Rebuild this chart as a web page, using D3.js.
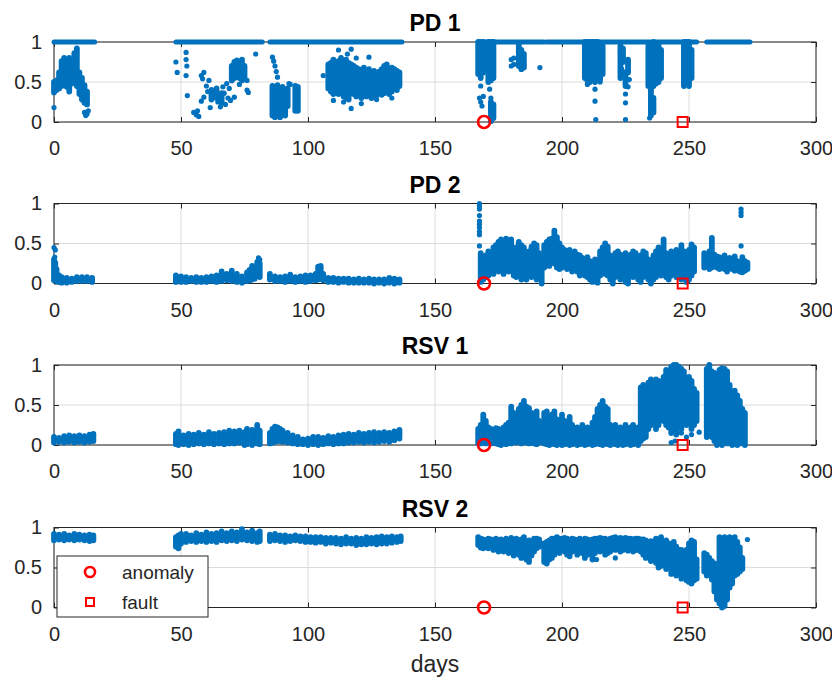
<!DOCTYPE html>
<html lang="en">
<head>
<meta charset="UTF-8">
<title>PD / RSV anomaly scores</title>
<script src="https://d3js.org/d3.v7.min.js"></script>
<style>
    body { margin: 0; background: #fff; }
    svg { display: block; font-family: "Liberation Sans", Arial, sans-serif; }
    .tick text { fill: #262626; font-size: 20px; }
    .tick line { stroke: #262626; }
</style>
</head>
<body>
<div id="chart"></div>
<script>
// ---- data: [day, low, high] bands, [day, value] dots, [from, to] runs at 1 ----
const pd1Ones = [[0,16],[48,82],[85,137],[167,193],[194,235],[236,253],[257,274]];
const pd1Bands = [
    [0,0.37,0.50],[1,0.40,0.52],[2,0.42,0.62],[3,0.45,0.76],[4,0.50,0.80],[5,0.44,0.72],[6,0.38,0.80],
    [7,0.48,0.72],[8,0.55,0.86],[9,0.45,0.92],[10,0.35,0.62],[11,0.28,0.55],[12,0.24,0.46],[13,0.22,0.38],
    [62,0.28,0.40],[64,0.30,0.42],[66,0.24,0.36],[70,0.52,0.70],[71,0.55,0.75],[72,0.58,0.77],[73,0.55,0.72],
    [74,0.52,0.78],[75,0.55,0.70],
    [86,0.08,0.45],[87,0.06,0.40],[88,0.10,0.46],[89,0.06,0.38],[90,0.12,0.44],[91,0.08,0.35],[92,0.20,0.42],
    [95,0.14,0.45],[96,0.14,0.44],
    [108,0.42,0.72],[109,0.38,0.74],[110,0.35,0.78],[111,0.40,0.70],[112,0.35,0.76],[113,0.40,0.80],[114,0.32,0.72],
    [115,0.30,0.78],[116,0.28,0.74],[117,0.38,0.72],[118,0.35,0.70],[119,0.32,0.68],[120,0.35,0.66],[121,0.30,0.64],
    [122,0.38,0.68],[123,0.32,0.62],[124,0.36,0.66],[125,0.30,0.62],[126,0.35,0.64],[127,0.33,0.60],[128,0.38,0.63],
    [129,0.34,0.66],[130,0.36,0.70],[131,0.40,0.72],[132,0.35,0.66],[133,0.38,0.68],[134,0.42,0.66],[135,0.40,0.64],
    [136,0.45,0.62],
    [167,0.60,1.0],[168,0.55,1.0],[169,0.62,1.0],[171,0.50,1.0],[172,0.52,1.0],[173,0.55,1.0],[172,0.01,0.25],
    [173,0.05,0.22],[183,0.70,0.96],[184,0.66,0.90],[185,0.68,0.85],
    [209,0.55,1.0],[210,0.52,1.0],[211,0.50,1.0],[212,0.55,1.0],[213,0.50,1.0],[214,0.58,1.0],[215,0.53,0.98],
    [216,0.60,0.95],[223,0.55,0.95],[224,0.75,0.92],[225,0.45,0.62],[226,0.62,0.78],
    [234,0.45,0.95],[235,0.40,0.98],[236,0.45,1.0],[237,0.48,0.95],[238,0.50,0.98],[239,0.55,0.90],
    [235,0.08,0.40],[236,0.12,0.30],
    [248,0.45,1.0],[249,0.48,1.0],[250,0.45,1.0],[251,0.55,0.90]
];
const pd1Dots = [
    [0,0.18],[12,0.12],[13,0.10],[13.5,0.14],[12.5,0.08],
    [48,0.75],[48.5,0.62],[52,0.87],[52,0.78],[52.3,0.70],[52,0.58],[52.5,0.33],[55,0.12],[56,0.09],[57,0.07],
    [56.5,0.14],[58,0.58],[58.5,0.54],[59,0.62],[59,0.31],[58,0.26],[60,0.45],[60.5,0.38],[61,0.52],[61.5,0.18],
    [63,0.35],[64.5,0.25],[65.5,0.19],[66.5,0.44],[67,0.36],[67.5,0.22],[68,0.48],[68.5,0.30],[69,0.42],[69.5,0.27],
    [71,0.31],[73,0.47],[76,0.52],[76,0.40],[76.5,0.37],[79.4,0.85],
    [86,0.81],[86.5,0.76],[87,0.70],[87.5,0.63],[88,0.56],[92.5,0.48],[93,0.47],
    [106,0.58],[112,0.90],[115.5,0.85],[117,0.91],[117,0.17],[124,0.81],[119,0.80],[110,0.27],[114,0.25],[121,0.23],
    [127,0.28],[133,0.30],
    [168,0.45],[167.5,0.30],[168,0.25],[168.5,0.20],[169,0.32],[171.5,0.41],[172,0.30],
    [180,0.78],[180,0.70],[181,0.80],[181,0.72],[191.3,0.68],
    [210,0.47],[213,0.41],[213,0.26],[213.3,0.03],[215,0.50],
    [223,0.88],[225,0.35],[225,0.24],[225,0.03],[226,0.44],[224,0.82],[223.5,0.66],[226.5,0.53],
    [234.5,0.05],[235.5,0.18]
];

const pd2Bands = [
    [0,0.04,0.30],[0.5,0.05,0.26],[1,0.03,0.18],[2,0.02,0.10],[3,0.01,0.08],[5,0.01,0.07],[7,0.02,0.06],
    [9,0.03,0.08],[11,0.03,0.08],[13,0.03,0.08],[15,0.02,0.07],
    [48,0.02,0.10],[50,0.02,0.09],[52,0.02,0.08],[54,0.03,0.07],[56,0.02,0.08],[58,0.02,0.07],[60,0.02,0.08],
    [62,0.03,0.09],[64,0.02,0.10],[66,0.03,0.15],[68,0.04,0.12],[70,0.03,0.16],[72,0.02,0.12],[74,0.01,0.09],
    [76,0.03,0.14],[77,0.04,0.17],[78,0.05,0.22],[79,0.06,0.20],[80,0.10,0.27],[81,0.08,0.25],
    [85,0.05,0.12],[87,0.03,0.09],[89,0.03,0.08],[91,0.02,0.09],[93,0.03,0.11],[95,0.02,0.08],[97,0.03,0.09],
    [99,0.02,0.10],[101,0.03,0.10],[103,0.04,0.12],[104,0.05,0.21],[105,0.06,0.22],[106,0.04,0.12],[108,0.02,0.07],
    [110,0.02,0.07],[112,0.01,0.06],[114,0.02,0.06],[116,0.01,0.06],[118,0.01,0.05],[120,0.01,0.06],[122,0.01,0.05],
    [124,0.01,0.06],[126,0.00,0.05],[128,0.01,0.05],[130,0.00,0.05],[132,0.01,0.07],[134,0.00,0.06],[136,0.01,0.05],
    [168,0.02,0.38],[169,0.05,0.32],[170,0.08,0.35],[171,0.10,0.40],[172,0.15,0.36],[173,0.12,0.45],[174,0.18,0.48],
    [175,0.15,0.52],[176,0.20,0.55],[177,0.12,0.50],[178,0.18,0.56],[179,0.15,0.53],[180,0.20,0.55],[181,0.10,0.40],
    [182,0.08,0.45],[183,0.12,0.52],[184,0.05,0.48],[185,0.10,0.45],[186,0.05,0.35],[187,0.10,0.40],[188,0.08,0.46],
    [189,0.12,0.50],[190,0.05,0.48],[191,0.10,0.38],[192,0.00,0.30],[193,0.20,0.48],[194,0.25,0.52],[195,0.22,0.55],
    [196,0.28,0.56],[197,0.25,0.66],[198,0.20,0.58],[199,0.18,0.50],[200,0.20,0.45],[201,0.22,0.42],[202,0.18,0.40],
    [203,0.20,0.42],[204,0.15,0.38],[205,0.18,0.40],[206,0.15,0.36],[207,0.10,0.35],[208,0.12,0.32],[209,0.10,0.30],
    [210,0.08,0.33],[211,0.05,0.28],[212,0.02,0.25],[213,0.03,0.30],[214,0.01,0.28],[215,0.10,0.40],[216,0.15,0.45],
    [217,0.12,0.50],[218,0.10,0.46],[219,0.05,0.35],[220,0.00,0.25],[221,0.08,0.38],[222,0.12,0.40],[223,0.05,0.36],
    [224,0.08,0.32],[225,0.02,0.38],[226,0.00,0.30],[227,0.10,0.36],[228,0.08,0.40],[229,0.12,0.38],[230,0.05,0.33],
    [231,0.02,0.35],[232,0.08,0.40],[233,0.10,0.38],[234,0.05,0.30],[235,0.00,0.28],[236,0.05,0.35],[237,0.08,0.40],
    [238,0.12,0.45],[239,0.10,0.35],[240,0.15,0.55],[241,0.08,0.38],[242,0.05,0.36],[243,0.10,0.40],[244,0.12,0.35],
    [245,0.08,0.42],[246,0.10,0.38],[247,0.05,0.48],[248,0.10,0.40],[249,0.02,0.35],[250,0.05,0.42],[251,0.10,0.49],
    [252,0.15,0.45],
    [256,0.20,0.38],[257,0.22,0.35],[258,0.18,0.40],[259,0.20,0.57],[260,0.22,0.36],[261,0.20,0.34],[262,0.18,0.33],
    [263,0.22,0.30],[264,0.18,0.35],[265,0.15,0.28],[266,0.20,0.32],[267,0.18,0.30],[268,0.16,0.34],[269,0.20,0.28],
    [270,0.15,0.26],[271,0.14,0.33],[272,0.16,0.28],[273,0.18,0.26]
];
const pd2Dots = [
    [0,0.45],[0.5,0.42],[0.3,0.33],[80.5,0.32],[81,0.30],
    [167.5,1.0],[167.5,0.97],[167.5,0.93],[167.5,0.85],[167.5,0.78],[167.5,0.74],[167.5,0.70],[167.5,0.65],
    [167.5,0.61],[167.5,0.47],
    [270.5,0.93],[270.5,0.89],[270.5,0.85],[270.5,0.47]
];

const rsv1Bands = [
    [0,0.03,0.10],[2,0.04,0.09],[4,0.03,0.11],[6,0.04,0.12],[8,0.03,0.11],[10,0.04,0.12],[12,0.03,0.11],
    [14,0.04,0.13],[15.5,0.05,0.14],
    [48,0.01,0.14],[49,0.00,0.17],[51,0.01,0.12],[53,0.00,0.14],[55,0.01,0.13],[57,0.02,0.15],[59,0.01,0.13],
    [61,0.02,0.16],[63,0.01,0.14],[65,0.02,0.15],[67,0.01,0.16],[69,0.02,0.18],[71,0.02,0.17],[73,0.03,0.18],
    [75,0.00,0.16],[76,0.01,0.20],[78,0.00,0.19],[80,0.02,0.25],[81,0.01,0.18],
    [85,0.02,0.15],[86,0.03,0.20],[87,0.04,0.23],[88,0.05,0.22],[89,0.05,0.20],[90,0.04,0.18],[92,0.03,0.15],
    [94,0.02,0.12],[96,0.01,0.10],[98,0.01,0.07],[100,0.00,0.08],[102,0.01,0.10],[104,0.00,0.10],[106,0.01,0.09],
    [108,0.02,0.11],[110,0.01,0.10],[112,0.02,0.12],[114,0.02,0.13],[116,0.03,0.14],[118,0.03,0.13],[120,0.04,0.15],
    [122,0.03,0.14],[124,0.04,0.15],[126,0.03,0.16],[128,0.04,0.15],[130,0.05,0.16],[132,0.04,0.15],[134,0.06,0.17],
    [136,0.08,0.19],
    [167,0.02,0.20],[168,0.02,0.25],[169,0.05,0.38],[170,0.02,0.30],[171,0.03,0.22],[172,0.02,0.20],[173,0.03,0.18],
    [174,0.02,0.21],[175,0.01,0.20],[176,0.00,0.18],[177,0.02,0.22],[178,0.01,0.25],[179,0.03,0.28],[180,0.02,0.48],
    [181,0.05,0.40],[182,0.03,0.35],[183,0.05,0.45],[184,0.02,0.50],[185,0.05,0.55],[186,0.03,0.48],[187,0.02,0.46],
    [188,0.04,0.40],[189,0.02,0.35],[190,0.01,0.42],[191,0.03,0.30],[193,0.02,0.40],[194,0.01,0.42],[195,0.00,0.35],
    [196,0.02,0.38],[197,0.01,0.42],[198,0.00,0.32],[199,0.02,0.30],[200,0.00,0.38],[201,0.01,0.30],[202,0.02,0.22],
    [203,0.00,0.35],[204,0.01,0.25],[205,0.02,0.20],[206,0.00,0.22],[207,0.01,0.18],[208,0.02,0.25],[209,0.00,0.20],
    [210,0.01,0.22],[211,0.02,0.18],[212,0.00,0.28],[213,0.01,0.35],[214,0.02,0.45],[215,0.01,0.50],[216,0.00,0.55],
    [217,0.02,0.48],[218,0.01,0.45],[219,0.00,0.25],[220,0.02,0.20],[221,0.01,0.25],[222,0.00,0.18],[223,0.02,0.22],
    [224,0.00,0.20],[225,0.01,0.25],[226,0.02,0.18],[227,0.00,0.22],[228,0.01,0.25],[229,0.02,0.20],[230,0.00,0.22],
    [231,0.05,0.72],[232,0.08,0.75],[233,0.10,0.65],[234,0.20,0.78],[235,0.25,0.82],[236,0.30,0.78],[237,0.20,0.82],
    [238,0.25,0.80],[239,0.35,0.75],[240,0.30,0.85],[241,0.25,0.94],[242,0.22,0.90],[243,0.15,0.98],[244,0.20,1.0],
    [245,0.13,1.0],[246,0.25,0.98],[247,0.20,0.95],[248,0.30,0.92],[249,0.25,0.84],[250,0.30,0.85],[251,0.20,0.80],
    [252,0.25,0.70],[253,0.30,0.65],
    [257,0.10,0.95],[258,0.15,1.0],[259,0.10,0.92],[260,0.05,0.90],[261,0.00,0.85],[262,0.02,0.94],[263,0.00,0.96],
    [264,0.05,0.95],[265,0.02,0.92],[266,0.05,0.75],[267,0.00,0.66],[268,0.02,0.68],[269,0.00,0.62],[270,0.02,0.55],
    [271,0.05,0.45],[272,0.00,0.40]
];
const rsv1Dots = [[243,0.03],[244.5,0.05],[247,0.15],[249,0.10],[251,0.13],[254,0.16]];

const rsv2Bands = [
    [0,0.84,0.92],[2,0.85,0.91],[4,0.84,0.92],[6,0.85,0.90],[8,0.84,0.92],[10,0.85,0.91],[12,0.84,0.90],
    [14,0.83,0.91],[15.5,0.84,0.90],
    [48,0.76,0.88],[49,0.74,0.90],[50,0.80,0.92],[52,0.82,0.92],[54,0.83,0.90],[56,0.82,0.93],[58,0.83,0.91],
    [60,0.82,0.94],[62,0.83,0.92],[64,0.82,0.93],[66,0.84,0.95],[68,0.83,0.93],[70,0.84,0.95],[72,0.83,0.94],
    [74,0.85,0.98],[76,0.84,0.94],[78,0.83,0.96],[80,0.82,0.93],[81,0.83,0.95],
    [85,0.83,0.91],[87,0.84,0.92],[89,0.83,0.90],[91,0.82,0.90],[93,0.83,0.89],[95,0.84,0.90],[97,0.83,0.89],
    [99,0.82,0.89],[101,0.82,0.88],[103,0.81,0.88],[105,0.82,0.88],[107,0.80,0.87],[109,0.81,0.87],[111,0.80,0.87],
    [113,0.79,0.86],[115,0.80,0.88],[117,0.80,0.86],[119,0.78,0.87],[121,0.79,0.86],[123,0.79,0.88],[125,0.80,0.87],
    [127,0.79,0.88],[129,0.80,0.89],[131,0.80,0.88],[133,0.81,0.89],[135,0.82,0.88],[136.5,0.83,0.89],
    [167,0.78,0.88],[168,0.75,0.86],[169,0.74,0.85],[170,0.76,0.84],[171,0.74,0.86],[172,0.76,0.85],[173,0.72,0.84],
    [174,0.74,0.86],[175,0.70,0.84],[176,0.72,0.85],[177,0.70,0.83],[178,0.72,0.86],[179,0.68,0.84],[180,0.70,0.87],
    [181,0.65,0.84],[182,0.70,0.86],[183,0.66,0.82],[184,0.62,0.85],[185,0.68,0.88],[186,0.60,0.80],[187,0.57,0.84],
    [188,0.65,0.82],[189,0.70,0.86],[190,0.74,0.86],[191,0.76,0.85],[193,0.57,0.80],[194,0.55,0.82],[195,0.60,0.84],
    [196,0.62,0.86],[197,0.66,0.86],[198,0.70,0.88],[199,0.68,0.86],[200,0.72,0.86],[201,0.70,0.87],[202,0.66,0.86],
    [203,0.64,0.84],[204,0.70,0.86],[205,0.72,0.85],[206,0.66,0.84],[207,0.70,0.86],[208,0.68,0.84],[209,0.62,0.86],
    [210,0.66,0.85],[211,0.70,0.84],[212,0.60,0.85],[213,0.68,0.86],[214,0.72,0.86],[215,0.70,0.87],[216,0.72,0.86],
    [217,0.66,0.86],[218,0.68,0.84],[219,0.70,0.86],[220,0.74,0.87],[221,0.72,0.88],[222,0.75,0.86],[223,0.70,0.87],
    [224,0.72,0.86],[225,0.74,0.87],[226,0.71,0.86],[227,0.73,0.86],[228,0.70,0.85],[229,0.72,0.86],[230,0.72,0.86],
    [231,0.70,0.85],[232,0.66,0.85],[233,0.62,0.84],[234,0.66,0.82],[235,0.58,0.83],[236,0.60,0.82],[237,0.56,0.86],
    [238,0.50,0.80],[239,0.52,0.88],[240,0.55,0.82],[241,0.48,0.84],[242,0.50,0.80],[243,0.42,0.78],[244,0.45,0.82],
    [245,0.40,0.76],[246,0.42,0.72],[247,0.36,0.72],[248,0.38,0.65],[249,0.34,0.72],[250,0.32,0.80],[251,0.30,0.84],
    [252,0.34,0.82],[253,0.36,0.60],
    [256,0.45,0.68],[257,0.40,0.66],[258,0.42,0.62],[259,0.35,0.58],[260,0.20,0.55],[261,0.10,0.52],[262,0.05,0.88],
    [263,0.00,0.85],[264,0.02,0.88],[265,0.10,0.85],[266,0.25,0.88],[267,0.30,0.85],[268,0.40,0.88],[269,0.42,0.82],
    [270,0.45,0.75],[271,0.48,0.62]
];
const rsv2Dots = [[213.6,0.60],[221,0.62],[273,0.85]];

const titles = ["PD 1", "PD 2", "RSV 1", "RSV 2"];
const anomalyDays = [169.3];
const faultDays = [247.5];
const xTicks = [0, 50, 100, 150, 200, 250, 300];
const xTickLabels = ["0", "50", "100", "150", "200", "250", "300"];
const yTicks = [0, 0.5, 1];
const yTickLabels = ["0", "0.5", "1"];
const legendItems = ["anomaly", "fault"];

// ---- layout ----
const W = 832, H = 682;
const blue = "#0072BD", red = "#FF0000", ink = "#262626";
const plotLeft = 54, plotRight = 816, plotH = 80;
const tops = [42, 203.5, 365, 527.5];

const svg = d3.select("#chart").append("svg")
    .attr("width", W).attr("height", H);

const x = d3.scaleLinear().domain([0, 300]).range([plotLeft, plotRight]);

const panels = [
    { bands: pd1Bands, dots: pd1Dots, ones: pd1Ones },
    { bands: pd2Bands, dots: pd2Dots, ones: [] },
    { bands: rsv1Bands, dots: rsv1Dots, ones: [] },
    { bands: rsv2Bands, dots: rsv2Dots, ones: [] }
];

panels.forEach((p, i) => {
    const top = tops[i];
    const y = d3.scaleLinear().domain([0, 1]).range([top + plotH, top]);
    const g = svg.append("g");

    // grid
    g.selectAll(".gx").data(xTicks).enter().append("line")
        .attr("x1", d => x(d)).attr("x2", d => x(d))
        .attr("y1", top).attr("y2", top + plotH)
        .attr("stroke", "#dcdcdc").attr("stroke-width", 1);
    g.selectAll(".gy").data(yTicks).enter().append("line")
        .attr("x1", plotLeft).attr("x2", plotRight)
        .attr("y1", d => y(d)).attr("y2", d => y(d))
        .attr("stroke", "#dcdcdc").attr("stroke-width", 1);

    // axes with inward ticks
    g.append("g").attr("transform", `translate(0,${top + plotH})`)
        .call(d3.axisBottom(x).tickValues(xTicks).tickFormat((d, k) => xTickLabels[k])
            .tickSizeInner(-5).tickSizeOuter(0).tickPadding(19));
    g.append("g").attr("transform", `translate(0,${top})`)
        .call(d3.axisTop(x).tickValues(xTicks).tickFormat("").tickSizeInner(-5).tickSizeOuter(0));
    g.append("g").attr("transform", `translate(${plotLeft},0)`)
        .call(d3.axisLeft(y).tickValues(yTicks).tickFormat((d, k) => yTickLabels[k])
            .tickSizeInner(-5).tickSizeOuter(0).tickPadding(12));
    g.append("g").attr("transform", `translate(${plotRight},0)`)
        .call(d3.axisRight(y).tickValues(yTicks).tickFormat("").tickSizeInner(-5).tickSizeOuter(0));
    g.selectAll(".domain").remove();
    g.selectAll(".tick text").attr("font-family", null);

    g.append("rect")
        .attr("x", plotLeft).attr("y", top)
        .attr("width", plotRight - plotLeft).attr("height", plotH)
        .attr("fill", "none").attr("stroke", ink).attr("stroke-width", 1);

    // title
    g.append("text")
        .attr("x", (plotLeft + plotRight) / 2).attr("y", top - 11)
        .attr("text-anchor", "middle")
        .attr("font-weight", "bold").attr("font-size", 23).attr("fill", "#000")
        .text(titles[i]);

    // data
    const d = g.append("g");
    d.selectAll(".one").data(p.ones).enter().append("line")
        .attr("x1", r => x(r[0])).attr("x2", r => x(r[1]))
        .attr("y1", y(1)).attr("y2", y(1))
        .attr("stroke", blue).attr("stroke-width", 5).attr("stroke-linecap", "round");
    d.selectAll(".band").data(p.bands).enter().append("line")
        .attr("x1", b => x(b[0])).attr("x2", b => x(b[0]))
        .attr("y1", b => y(b[1])).attr("y2", b => y(b[2]))
        .attr("stroke", blue).attr("stroke-width", 5.8).attr("stroke-linecap", "round");
    d.selectAll(".dot").data(p.dots).enter().append("circle")
        .attr("cx", c => x(c[0])).attr("cy", c => y(c[1])).attr("r", 2.6)
        .attr("fill", blue);

    // anomaly & fault markers
    g.selectAll(".anom").data(anomalyDays).enter().append("circle")
        .attr("cx", a => x(a)).attr("cy", y(0)).attr("r", 6)
        .attr("fill", "none").attr("stroke", red).attr("stroke-width", 2.6);
    g.selectAll(".fault").data(faultDays).enter().append("rect")
        .attr("x", f => x(f) - 5).attr("y", y(0) - 5)
        .attr("width", 10).attr("height", 10)
        .attr("fill", "none").attr("stroke", red).attr("stroke-width", 2);
});

// x label
svg.append("text")
    .attr("x", (plotLeft + plotRight) / 2).attr("y", 672)
    .attr("text-anchor", "middle").attr("font-size", 23).attr("fill", ink)
    .text("days");

// legend (bottom panel, lower-left)
const lg = svg.append("g").attr("transform", "translate(57,556)");
lg.append("rect").attr("width", 151).attr("height", 61)
    .attr("fill", "#fff").attr("stroke", ink).attr("stroke-width", 1);
legendItems.forEach((name, k) => {
    const cy = 16 + k * 30;
    if (k === 0) {
        lg.append("circle").attr("cx", 33).attr("cy", cy).attr("r", 5)
            .attr("fill", "none").attr("stroke", red).attr("stroke-width", 2.6);
    } else {
        lg.append("rect").attr("x", 29).attr("y", cy - 4).attr("width", 8).attr("height", 8)
            .attr("fill", "none").attr("stroke", red).attr("stroke-width", 2);
    }
    lg.append("text").attr("x", 65).attr("y", cy + 7)
        .attr("font-size", 19).attr("fill", ink).text(name);
});
</script>
</body>
</html>
